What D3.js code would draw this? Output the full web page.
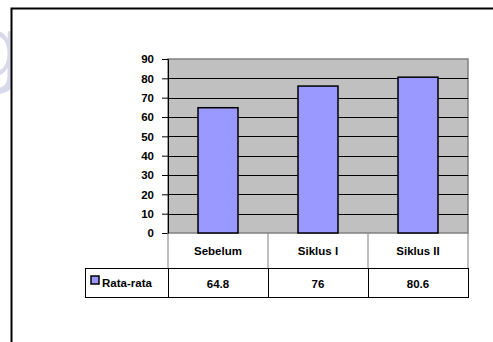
<!DOCTYPE html>
<html>
<head>
<meta charset="utf-8">
<script src="https://cdn.jsdelivr.net/npm/d3@7"></script>
<style>
  body { margin: 0; background: #fff; }
  svg { display: block; font-family: "Liberation Sans", Arial, sans-serif; font-weight: bold; }
</style>
</head>
<body>
<div id="the_chart"></div>
<script>
var categories = ["Sebelum", "Siklus I", "Siklus II"];
var values = [64.8, 76, 80.6];
var seriesName = "Rata-rata";
var valueLabels = ["64.8", "76", "80.6"];
var yTicks = [0, 10, 20, 30, 40, 50, 60, 70, 80, 90];

var w = 493, h = 342;
var fs = 11.5;

var svg = d3.select("#the_chart")
    .append("svg")
    .attr("width", w)
    .attr("height", h);

// faint watermark on the left edge
svg.append("text")
    .attr("x", -27).attr("y", 76)
    .attr("font-size", 86)
    .attr("font-weight", "normal")
    .attr("fill", "#d9d9ec")
    .text("g");

// white behind frame so the watermark stops at the frame line
svg.append("rect")
    .attr("x", 12).attr("y", 9)
    .attr("width", w - 12).attr("height", h - 9)
    .attr("fill", "#fff");

// frame (top + left only visible)
svg.append("path")
    .attr("d", "M11.5," + h + "V8.5H" + w)
    .attr("fill", "none")
    .attr("stroke", "#000")
    .attr("stroke-width", 2);

var pLeft = 168, pRight = 468, pTop = 59, pBottom = 233;
var catRowBottom = 268, dataRowBottom = 297, legendLeft = 85;

var xscale = d3.scaleBand()
    .domain(categories)
    .range([pLeft, pRight]);

var yscale = d3.scaleLinear()
    .domain([0, 90])
    .range([pBottom, pTop]);

// plot area
svg.append("rect")
    .attr("x", pLeft).attr("y", pTop)
    .attr("width", pRight - pLeft).attr("height", pBottom - pTop)
    .attr("fill", "#c0c0c0")
    .attr("stroke", "#808080")
    .attr("stroke-width", 1.5);

// gridlines
svg.selectAll("line.grid")
    .data(yTicks.filter(function (d) { return d > 0 && d < 90; }))
    .enter().append("line")
    .attr("class", "grid")
    .attr("x1", pLeft).attr("x2", pRight)
    .attr("y1", function (d) { return Math.round(yscale(d)) + 0.5; })
    .attr("y2", function (d) { return Math.round(yscale(d)) + 0.5; })
    .attr("stroke", "#000")
    .attr("stroke-width", 1);

// y axis
var yaxis = d3.axisLeft(yscale)
    .tickValues(yTicks)
    .tickSize(6)
    .tickPadding(8)
    .tickFormat(d3.format("d"));

var gY = svg.append("g")
    .attr("transform", "translate(" + pLeft + ",0)")
    .call(yaxis);
gY.select(".domain").attr("stroke", "#000");
gY.selectAll(".tick line").attr("stroke", "#000");
gY.selectAll(".tick text")
    .attr("font-size", fs)
    .attr("font-weight", "bold")
    .attr("font-family", "Liberation Sans, Arial, sans-serif")
    .attr("fill", "#000");

// bars
var barW = xscale.bandwidth() * 0.4;
svg.selectAll("rect.bar")
    .data(values)
    .enter().append("rect")
    .attr("class", "bar")
    .attr("x", function (d, i) { return xscale(categories[i]) + (xscale.bandwidth() - barW) / 2; })
    .attr("y", function (d) { return yscale(d); })
    .attr("width", barW)
    .attr("height", function (d) { return pBottom - yscale(d); })
    .attr("fill", "#9999ff")
    .attr("stroke", "#000")
    .attr("stroke-width", 1.5);

// category row (gray borders)
svg.selectAll("line.catsep")
    .data(categories.concat(["end"]))
    .enter().append("line")
    .attr("class", "catsep")
    .attr("x1", function (d, i) { return pLeft + i * xscale.bandwidth(); })
    .attr("x2", function (d, i) { return pLeft + i * xscale.bandwidth(); })
    .attr("y1", pBottom).attr("y2", catRowBottom)
    .attr("stroke", "#808080")
    .attr("stroke-width", 1);

svg.selectAll("text.cat")
    .data(categories)
    .enter().append("text")
    .attr("class", "cat")
    .attr("x", function (d) { return xscale(d) + xscale.bandwidth() / 2; })
    .attr("y", (pBottom + catRowBottom) / 2 + 4.5)
    .attr("text-anchor", "middle")
    .attr("font-size", fs)
    .text(function (d) { return d; });

// data row (black borders)
svg.append("rect")
    .attr("x", legendLeft + 0.5).attr("y", catRowBottom + 0.5)
    .attr("width", pRight - legendLeft).attr("height", dataRowBottom - catRowBottom)
    .attr("fill", "none")
    .attr("stroke", "#000")
    .attr("stroke-width", 1);

svg.selectAll("line.datasep")
    .data(categories)
    .enter().append("line")
    .attr("class", "datasep")
    .attr("x1", function (d) { return Math.round(xscale(d)) + 0.5; })
    .attr("x2", function (d) { return Math.round(xscale(d)) + 0.5; })
    .attr("y1", catRowBottom).attr("y2", dataRowBottom)
    .attr("stroke", "#000")
    .attr("stroke-width", 1);

svg.selectAll("text.val")
    .data(valueLabels)
    .enter().append("text")
    .attr("class", "val")
    .attr("x", function (d, i) { return xscale(categories[i]) + xscale.bandwidth() / 2; })
    .attr("y", (catRowBottom + dataRowBottom) / 2 + 5)
    .attr("text-anchor", "middle")
    .attr("font-size", fs)
    .text(function (d) { return d; });

// legend key
svg.append("rect")
    .attr("x", 91).attr("y", 276)
    .attr("width", 8).attr("height", 8)
    .attr("fill", "#9999ff")
    .attr("stroke", "#000")
    .attr("stroke-width", 1.5);

svg.append("text")
    .attr("x", 102)
    .attr("y", (catRowBottom + dataRowBottom) / 2 + 4)
    .attr("font-size", fs)
    .text(seriesName);
</script>
</body>
</html>
